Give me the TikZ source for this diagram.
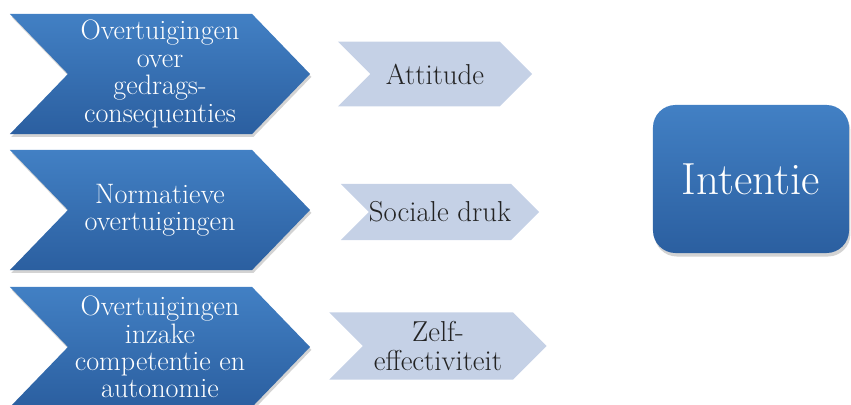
\documentclass[tikz,border=0pt]{standalone}
\usetikzlibrary{shapes.symbols,shadows}

\definecolor{chTop}{RGB}{66,128,196}
\definecolor{chBot}{RGB}{43,95,160}
\definecolor{lcFill}{RGB}{197,209,230}
\definecolor{lcText}{RGB}{35,35,35}

\begin{document}
\begin{tikzpicture}[
    x=0.025cm, y=-0.025cm,
    ch/.style={
        shape=signal,
        signal from=west,
        signal to=east,
        signal pointer angle=92,
        top color=chTop,
        bottom color=chBot,
        draw=none,
        text=white,
        align=center,
        font=\fontsize{20}{19.5}\selectfont,
        minimum width=7.5cm,
        minimum height=3cm,
        inner sep=0pt,
        drop shadow={shadow xshift=1pt,shadow yshift=-2pt,opacity=.35},
    },
    lc/.style={
        shape=signal,
        signal from=west,
        signal to=east,
        signal pointer angle=90,
        fill=lcFill,
        text=lcText,
        align=center,
        font=\fontsize{20.5}{20.6}\selectfont,
        inner sep=0pt,
    },
    bx/.style={
        rectangle,
        rounded corners=16pt,
        top color=chTop,
        bottom color=chBot,
        text=white,
        font=\fontsize{32}{34}\selectfont,
        minimum width=4.9cm,
        minimum height=3.7cm,
        drop shadow={shadow xshift=1pt,shadow yshift=-2.5pt,opacity=.35},
    },
]
    \useasboundingbox (0,0) rectangle (851,405);
    % ~~~ left column: beliefs ~~~~~~~~~~~~
    \node[ch] (gevolg) at (160,74)  {Overtuigingen\\over\\gedrags-\\consequenties};
    \node[ch] (norm)   at (160,210) {Normatieve\\overtuigingen};
    \node[ch] (comp)   at (160,347) {Overtuigingen\\inzake\\competentie en\\autonomie};
    % ~~~ middle column: determinants ~~~~~~~~~
    \node[lc,minimum width=4.85cm,minimum height=1.62cm] (att)  at (435,74)  {Attitude};
    \node[lc,minimum width=4.88cm,minimum height=1.4cm]  (druk) at (440,212) {Sociale druk};
    \node[lc,minimum width=5.43cm,minimum height=1.68cm] (zelf) at (438,346) {Zelf-\\effectiviteit};
    % ~~~ right: intention ~~~~~~~~~
    \node[bx] (int) at (751,179) {Intentie};
\end{tikzpicture}
\end{document}
